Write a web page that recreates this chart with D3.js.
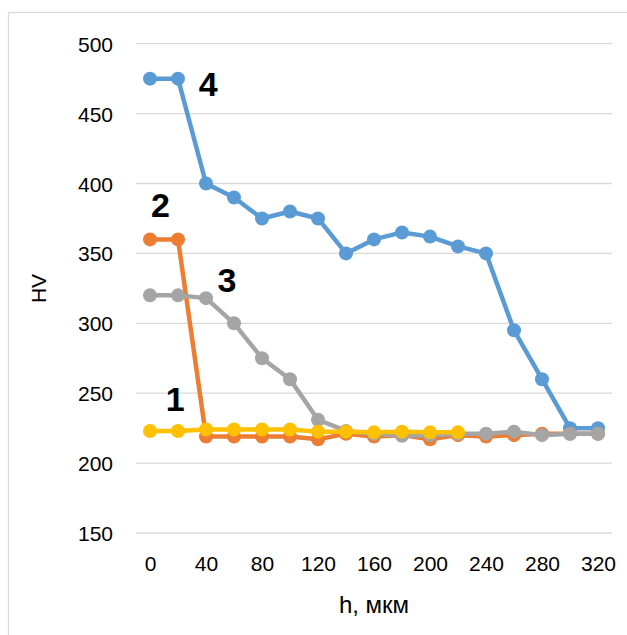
<!DOCTYPE html>
<html>
<head>
<meta charset="utf-8">
<script src="https://cdn.jsdelivr.net/npm/d3@7"></script>
<style>
  html, body { margin: 0; padding: 0; background: #fff; }
  svg { display: block; }
  text { font-family: "Liberation Sans", Arial, sans-serif; }
</style>
</head>
<body>
<svg id="chart" width="627" height="635"></svg>
<script>
// ---- data ----
const depths = [0, 20, 40, 60, 80, 100, 120, 140, 160, 180, 200, 220, 240, 260, 280, 300, 320];
const series1 = [223, 223, 224, 224, 224, 224, 222.5, 222.5, 222, 222.5, 222, 222];
const series2 = [360, 360, 219, 219, 219, 219, 217, 221, 219, 220, 217, 220, 219, 220, 221, 221, 221];
const series3 = [320, 320, 318, 300, 275, 260, 231, 223, 221, 219.5, 220, 221, 221, 222.5, 220, 221, 221];
const series4 = [475, 475, 400, 390, 375, 380, 375, 350, 360, 365, 362, 355, 350, 295, 260, 225, 225];
const xTickLabels = [0, 40, 80, 120, 160, 200, 240, 280, 320];
const yTickLabels = [150, 200, 250, 300, 350, 400, 450, 500];
const seriesNames = ["4", "2", "3", "1"];
const seriesColors = ["#5B9BD5", "#ED7D31", "#A5A5A5", "#FFC000"];
const seriesValues = [series4, series2, series3, series1];
// curve labels anchored in data space: [depth, HV]
const curveLabelX = [41.5, 7.5, 55, 18];
const curveLabelY = [471, 385, 331, 246];
const xTitle = "h, мкм";
const yTitle = "HV";

// ---- chart ----
const svg = d3.select("#chart");
const x = d3.scaleLinear().domain([0, 320]).range([150, 598]);
const y = d3.scaleLinear().domain([150, 500]).range([533, 43.7]);
const plotLeft = x(-10), plotRight = x(330);

// outer border
svg.append("rect")
  .attr("x", 8.5).attr("y", 12.5)
  .attr("width", 700).attr("height", 700)
  .attr("fill", "none").attr("stroke", "#d9d9d9").attr("stroke-width", 1.3);

// gridlines
svg.append("g").selectAll("line")
  .data(yTickLabels).join("line")
  .attr("x1", plotLeft).attr("x2", plotRight)
  .attr("y1", d => y(d)).attr("y2", d => y(d))
  .attr("stroke", "#d9d9d9").attr("stroke-width", 1.3);

// y axis labels
const yAxis = d3.axisLeft(y).tickValues(yTickLabels).tickSize(0).tickPadding(0);
const gy = svg.append("g").attr("transform", `translate(${113},0)`).call(yAxis);
gy.select(".domain").remove();
gy.selectAll("text").attr("font-size", 21).attr("fill", "#000")
  .attr("font-family", "Liberation Sans, Arial, sans-serif").attr("dy", "0.36em");

// x axis labels
const xAxis = d3.axisBottom(x).tickValues(xTickLabels).tickSize(0).tickPadding(0);
const gx = svg.append("g").attr("transform", `translate(0,${555})`).call(xAxis);
gx.select(".domain").remove();
gx.selectAll("text").attr("font-size", 21).attr("fill", "#000")
  .attr("font-family", "Liberation Sans, Arial, sans-serif").attr("dy", "0.76em");

// axis titles
svg.append("text").attr("x", 374).attr("y", 613)
  .attr("text-anchor", "middle").attr("font-size", 24).attr("fill", "#000")
  .text(xTitle);
svg.append("text")
  .attr("transform", `translate(${46},${288.5}) rotate(-90)`)
  .attr("text-anchor", "middle").attr("font-size", 21).attr("fill", "#000")
  .text(yTitle);

// series
const line = d3.line().x((d, i) => x(depths[i])).y(d => y(d));
seriesValues.forEach((vals, s) => {
  const g = svg.append("g");
  g.append("path").datum(vals)
    .attr("d", line)
    .attr("fill", "none")
    .attr("stroke", seriesColors[s])
    .attr("stroke-width", 4.5)
    .attr("stroke-linejoin", "round");
  g.selectAll("circle").data(vals).join("circle")
    .attr("cx", (d, i) => x(depths[i]))
    .attr("cy", d => y(d))
    .attr("r", 7)
    .attr("fill", seriesColors[s]);
});

// curve labels
svg.append("g").selectAll("text")
  .data(seriesNames).join("text")
  .attr("x", (d, i) => x(curveLabelX[i]))
  .attr("y", (d, i) => y(curveLabelY[i]))
  .attr("text-anchor", "middle")
  .attr("dy", "0.36em")
  .attr("font-size", 34)
  .attr("font-weight", "bold")
  .attr("fill", "#000")
  .text(d => d);
</script>
</body>
</html>
